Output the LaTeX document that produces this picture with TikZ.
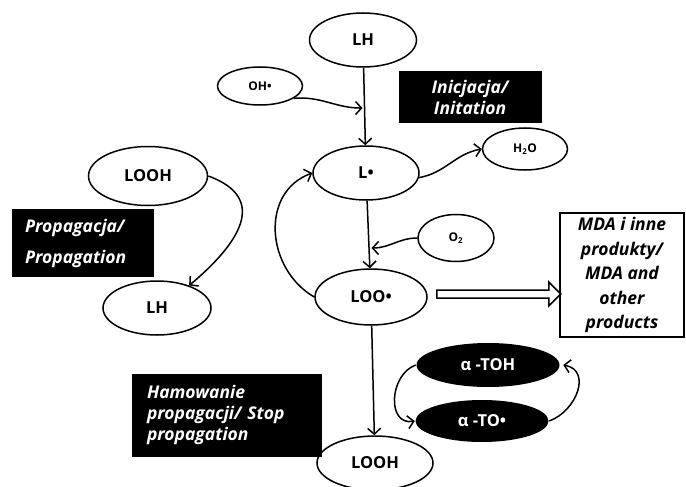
\documentclass[tikz,border=0pt]{standalone}
\usepackage{fontspec}
\setmainfont{Open Sans}
\usetikzlibrary{arrows.meta,calc,shapes.geometric}

\begin{document}
\begin{tikzpicture}[
    x=1pt, y=-1pt,
    >={Straight Barb[length=6pt,width=13pt]},
    line width=1.5pt,
    zwiazek/.style={draw, ellipse, inner sep=0pt, font=\bfseries\fontsize{16.5}{19}\selectfont},
    maly/.style={zwiazek, font=\bfseries\fontsize{12}{14}\selectfont},
    antyox/.style={ellipse, fill=black, text=white, inner sep=0pt, font=\bfseries\fontsize{16.5}{19}\selectfont},
    etapa/.style={fill=black, text=white, inner sep=0pt, font=\bfseries\itshape\fontsize{17.5}{21}\selectfont}
]
\useasboundingbox (0,0) rectangle (686,487);

% Inicjacja
\node[zwiazek, minimum width=107, minimum height=54] (lh) at (363,40) {LH};
\node[maly, minimum width=85, minimum height=38] (oh) at (260,86) {OH•};
\node[etapa, minimum width=143, minimum height=52, align=center] (inic) at (470,97) {Inicjacja/\\Initation};
\node[zwiazek, minimum width=106, minimum height=54] (l) at (366,173) {L•};
\node[maly, minimum width=85, minimum height=42] (h2o) at (525,149) {H\textsubscript{2}O};

% Propagacja
\node[zwiazek, minimum width=119, minimum height=59] (looh) at (148,176) {LOOH};
\node[etapa, minimum width=142, minimum height=68, align=left, text width=116] (prop) at (83,243) {Propagacja/\\[10pt]Propagation};
\node[zwiazek, minimum width=108, minimum height=54] (lhp) at (157,308) {LH};
\node[maly, minimum width=76, minimum height=47] (o2) at (456,238) {O\textsubscript{2}};
\node[zwiazek, minimum width=112, minimum height=56] (loo) at (371,297) {LOO•};
\node[draw, minimum width=124, minimum height=124, inner sep=0pt, align=center, font=\bfseries\itshape\fontsize{17.5}{24.5}\selectfont] (mda) at (622,275) {MDA i inne\\produkty/\\MDA and\\other\\products};

% Hamowanie
\node[antyox, minimum width=143, minimum height=44] (toh) at (488,365) {α -TOH};
\node[antyox, minimum width=133, minimum height=42] (to) at (482,421) {α -TO•};
\node[etapa, minimum width=190, minimum height=83, align=left, text width=160, font=\bfseries\itshape\fontsize{17.5}{21}\selectfont] (ham) at (227,415) {Hamowanie\\propagacji/ Stop\\propagation};
\node[zwiazek, minimum width=116, minimum height=54] (loohb) at (375,463) {LOOH};

% Strzalki
\coordinate (ohend) at ($(lh.south)!0.52!(l.north)$);
\coordinate (o2end) at ($(l.south)!0.7!(loo.north)$);
\draw[->] (lh) -- (l);
\draw[->] (oh.-20) to[out=5, in=180] ([xshift=-2pt]ohend);
\draw[->] (l.-5) to[out=10, in=190] (h2o.west);
\draw[->] (l) -- (loo);
\draw[->] (o2.west) to[out=180, in=0] ([xshift=2pt]o2end);
\draw[->] (loo.west) to[out=150, in=200, looseness=1.15] (l.west);
\draw[->] (looh.east) to[out=-20, in=40, looseness=1.5] (lhp.35);
\draw[->] (loo) -- (loohb);
\draw[->] (toh.west) to[out=200, in=190, looseness=1.3] (to.west);
\draw[->] (to.east) to[out=20, in=-10, looseness=1.3] ([xshift=3pt]toh.east);

% Produkty
\draw ($(loo.east)+(9,-7)$) -- ++(112,0) -- ++(0,-8) -- ++(12,12) -- ++(-12,12) -- ++(0,-8) -- ++(-112,0) -- cycle;

\end{tikzpicture}
\end{document}
